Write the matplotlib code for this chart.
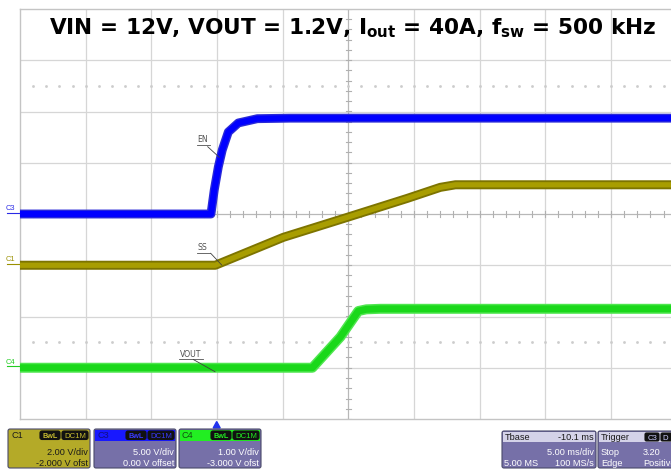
import matplotlib
matplotlib.use("Agg")
import matplotlib.pyplot as plt
import numpy as np
from matplotlib.patches import FancyBboxPatch, Rectangle, Polygon

plt.rcParams['font.family'] = ['Liberation Sans', 'DejaVu Sans']
plt.rcParams['mathtext.fontset'] = 'dejavusans'

# ---------------- data (time in ms relative to trigger, volts) ----------------
en_t = [-15.0, -0.46, -0.21, 0.10, 0.40, 0.86, 1.62, 3.07, 5.58, 34.6]
en_v = [0.0, 0.0, 2.34, 4.59, 6.24, 8.00, 8.88, 9.30, 9.35, 9.35]

ss_t = [-15.0, -0.13, 5.05, 9.92, 14.49, 17.0, 18.15, 34.6]
ss_v = [0.0, 0.0, 1.09, 1.87, 2.61, 3.04, 3.14, 3.14]

vout_t = [-15.0, 7.26, 9.39, 10.76, 11.37, 12.43, 34.6]
vout_v = [0.0, 0.0, 0.60, 1.107, 1.14, 1.15, 1.15]

# channel settings: (volts/div, offset V)
ch_scale = {'C1': (2.0, -2.0), 'C3': (5.0, 0.0), 'C4': (1.0, -3.0)}
time_per_div = 5.0      # ms/div
trig_div = 3.0          # trigger position (div from left)

title = r"VIN = 12V, VOUT = 1.2V, I$_{\mathbf{out}}$ = 40A, f$_{\mathbf{sw}}$ = 500 kHz"

W, H = 671, 471
fig = plt.figure(figsize=(W / 100, H / 100), dpi=100)
fig.patch.set_facecolor('white')

gl, gt, gb = 20, 9, 419
ax = fig.add_axes([gl / W, (H - gb) / H, (W - gl) / W, (gb - gt) / H])
xdiv = 65.67
xmax = (W - gl) / xdiv
ax.set_xlim(0, xmax)
ax.set_ylim(-4, 4)
ax.set_xticks([]); ax.set_yticks([])
for s in ['left', 'top', 'bottom']:
    ax.spines[s].set_color('#c4c4c4'); ax.spines[s].set_linewidth(1.0)
ax.spines['right'].set_visible(False)

gridc = '#d6d6d6'
for i in range(1, 10):
    if i != 5:
        ax.axvline(i, color=gridc, lw=0.9, zorder=1)
for j in range(-3, 4):
    if j != 0:
        ax.axhline(j, color=gridc, lw=0.9, zorder=1)
ax.axvline(5, color='#b8b8b8', lw=0.9, zorder=1)
ax.axhline(0, color='#b8b8b8', lw=0.9, zorder=1)
# ticks on centre lines
for x in np.arange(0, xmax, 0.2):
    ax.plot([x, x], [-0.05, 0.05], color='#b0b0b0', lw=0.8, zorder=1)
for y in np.arange(-4, 4.01, 0.2):
    ax.plot([5 - 0.04, 5 + 0.04], [y, y], color='#b0b0b0', lw=0.8, zorder=1)
# dotted lines
dx = np.arange(0.2, xmax, 0.2)
for y in (2.5, -2.5):
    ax.plot(dx, np.full_like(dx, y), ls='none', marker='s', ms=0.9,
            color='#cccccc', zorder=1)


def to_div(t, v, ch):
    sc, off = ch_scale[ch]
    x = np.asarray(t) / time_per_div + trig_div
    y = (np.asarray(v) + off) / sc
    return x, y


x, y = to_div(en_t, en_v, 'C3')
ax.plot(x, y, color='#2a2ad8', lw=6.4, solid_joinstyle='round', zorder=3)
ax.plot(x, y, color='#0000ff', lw=4.4, solid_joinstyle='round', zorder=3)
x, y = to_div(ss_t, ss_v, 'C1')
ax.plot(x, y, color='#7d7400', lw=6.5, solid_joinstyle='round', zorder=3)
ax.plot(x, y, color='#a89d00', lw=3.8, solid_joinstyle='round', zorder=3)
x, y = to_div(vout_t, vout_v, 'C4')
ax.plot(x, y, color='#4fe64f', lw=7.2, solid_joinstyle='round', zorder=3)
ax.plot(x, y, color='#1ad81a', lw=5.0, solid_joinstyle='round', zorder=3)

# ---------------- overlay in pixel coords ----------------
ov = fig.add_axes([0, 0, 1, 1], facecolor='none')
ov.set_xlim(0, W); ov.set_ylim(H, 0); ov.axis('off')

ov.text(352.5, 34, title, ha='center', va='baseline', fontsize=15.6,
        fontweight='bold', color='black', family='DejaVu Sans')

lab = '#505050'
def label(txt, x0, y0, p0, p1, ux, uw):
    ov.text(x0, y0, txt, fontsize=5.6, color=lab, ha='left', va='baseline',
            family='DejaVu Sans')
    ov.plot([ux, ux + uw], [y0 + 2, y0 + 2], color=lab, lw=0.6)
    ov.plot([p0[0], p1[0]], [p0[1], p1[1]], color='#404040', lw=0.6)

label('EN', 197.5, 142.5, (207.7, 146.7), (219.3, 157.3), 197, 13)
label('SS', 198, 250.5, (210.7, 253.3), (221.7, 265), 197, 13)
label('VOUT', 180, 357, (193.3, 359.5), (215, 371.7), 179, 24)

# channel markers
for ch, col in (('C3', '#2a2ae6'), ('C1', '#9a9000'), ('C4', '#22cc22')):
    sc, off = ch_scale[ch]
    yp = 214 - (off / sc) * 51.25
    ov.text(5.5, yp - 4.0, ch, fontsize=5.4, color=col, ha='left', va='baseline')
    ov.plot([7, 19], [yp - 1.5, yp - 1.5], color=col, lw=0.8)

# trigger marker
ov.add_patch(Polygon([[213.2, 428], [220.2, 428], [216.7, 421.5]], closed=True,
                     color='#2233ee'))

purple = '#7670a8'
light = '#d4d2e8'
fs = 6.6

def rbox(x0, y0, w, h, fc, ec='#4a4a6a', lw=0.8, r=2.0):
    ov.add_patch(FancyBboxPatch((x0, y0), w, h,
                                boxstyle=f"round,pad=0,rounding_size={r}",
                                fc=fc, ec=ec, lw=lw))

def chan_box(x0, name, hdr, body, tcol, l1, l2, namecol, tagcol):
    w, top, bot = 82, 429, 468
    rbox(x0, top, w, bot - top, body)
    ov.add_patch(Rectangle((x0 + 0.6, top + 0.6), w - 1.2, 11.5, fc=hdr, ec='none'))
    ov.text(x0 + 3, top + 9.5, name, fontsize=fs, color=namecol, va='baseline')
    rbox(x0 + 32, top + 2, 20, 8.5, '#111111', ec='#111111', r=2.0)
    ov.text(x0 + 42, top + 9, 'BwL', fontsize=5.2, color=tagcol, ha='center',
            va='baseline', fontweight='bold')
    rbox(x0 + 54, top + 2, 26, 8.5, '#111111', ec='#111111', r=2.0)
    ov.text(x0 + 67, top + 9, 'DC1M', fontsize=5.6, color=tagcol, ha='center',
            va='baseline')
    ov.text(x0 + w - 2, 455, l1, fontsize=fs, color=tcol, ha='right', va='baseline')
    ov.text(x0 + w - 2, 466, l2, fontsize=fs, color=tcol, ha='right', va='baseline')

chan_box(8, 'C1', '#b4aa28', '#b4aa28', '#1a1a1a', '2.00 V/div', '-2.000 V ofst',
         '#1a1a1a', '#c8bd30')
chan_box(94, 'C3', '#1818ff', purple, 'white', '5.00 V/div', '0.00 V offset',
         '#101080', '#3a3aff')
chan_box(179, 'C4', '#22ee22', purple, 'white', '1.00 V/div', '-3.000 V ofst',
         '#105010', '#22ee22')

# Tbase box
rbox(502, 431, 94, 37, purple)
ov.add_patch(Rectangle((502.6, 431.6), 92.8, 10.5, fc=light, ec='none'))
ov.text(505, 440, 'Tbase', fontsize=fs, color='#1a1a1a', va='baseline')
ov.text(594, 440, '-10.1 ms', fontsize=fs, color='#1a1a1a', ha='right', va='baseline')
ov.text(594, 455, '5.00 ms/div', fontsize=fs, color='white', ha='right', va='baseline')
ov.text(503.5, 466, '5.00 MS', fontsize=fs, color='white', va='baseline')
ov.text(594, 466, '100 MS/s', fontsize=fs, color='white', ha='right', va='baseline')

# Trigger box (runs past the right edge of the screen, as in the capture)
rbox(598, 431, 110, 37, purple)
ov.add_patch(Rectangle((598.6, 431.6), 108, 10.5, fc=light, ec='none'))
ov.text(600.5, 440, 'Trigger', fontsize=fs, color='#1a1a1a', va='baseline')
rbox(645, 433, 14, 8, '#111111', ec='#111111', r=1.5)
ov.text(652, 440, 'C3', fontsize=5.6, color='#d0d0ff', ha='center', va='baseline')
rbox(661, 433, 26, 8, '#111111', ec='#111111', r=1.5)
ov.text(662, 440, 'D', fontsize=5.6, color='#d0d0ff', ha='left', va='baseline')
ov.text(601, 455, 'Stop', fontsize=fs, color='white', va='baseline')
ov.text(643, 455, '3.20', fontsize=fs, color='white', va='baseline')
ov.text(601, 466, 'Edge', fontsize=fs, color='white', va='baseline')
ov.text(643, 466, 'Positive', fontsize=fs, color='white', va='baseline')

fig.savefig('out.png', dpi=100, facecolor='white')
